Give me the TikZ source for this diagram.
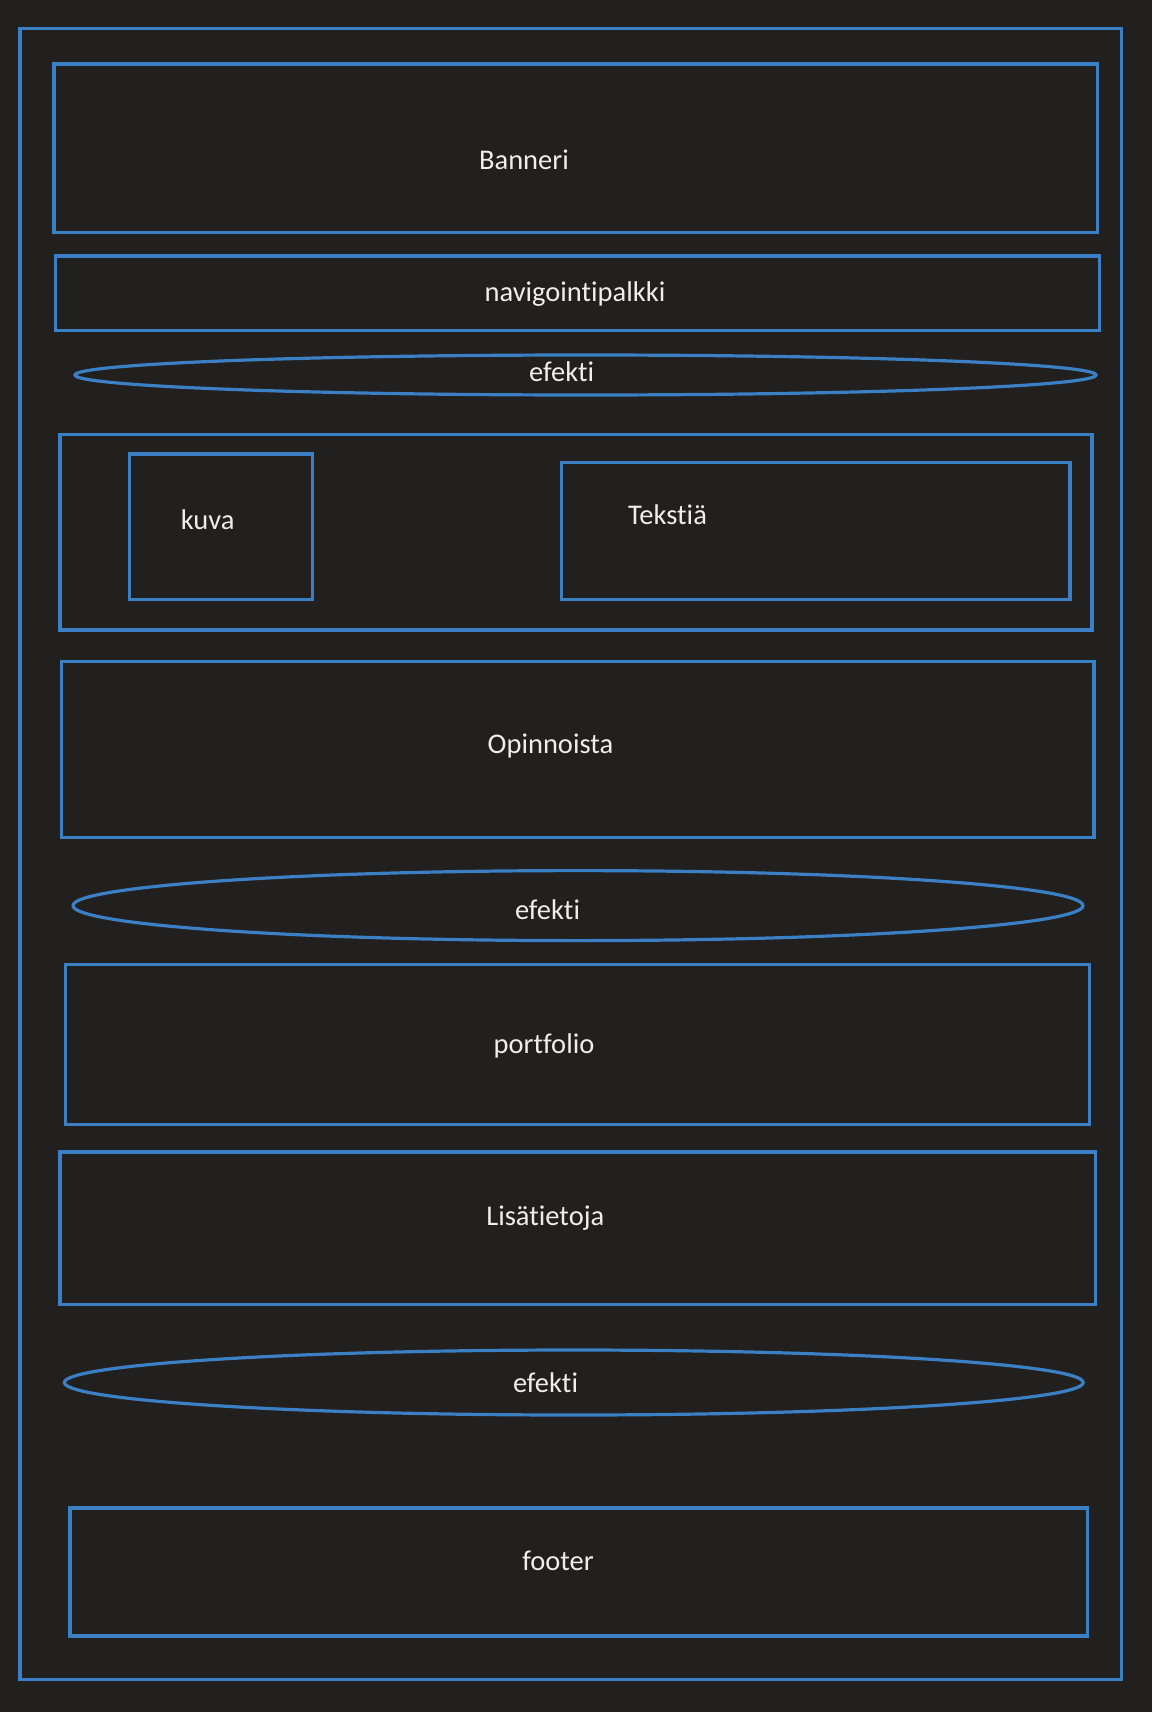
\documentclass[tikz,border=0pt]{standalone}
\usepackage{fontspec}
\setmainfont[Ligatures=NoCommon,RawFeature={-liga;-clig;-dlig}]{Carlito}
\usetikzlibrary{shapes.geometric}
\definecolor{bg}{RGB}{33,32,31}
\definecolor{edge}{RGB}{59,127,196}
\definecolor{txt}{RGB}{238,238,238}
\begin{document}
\begin{tikzpicture}[x=1pt,y=-1pt,
  box/.style={draw=edge,line width=3.2pt,rectangle,inner sep=0pt,minimum width=#1},
  oval/.style={draw=edge,line width=3.2pt,ellipse,inner sep=0pt},
  lbl/.style={text=txt,font=\fontsize{28.5}{34}\selectfont,anchor=base,inner sep=0pt}]
\fill[bg] (0,0) rectangle (1152,1712);
\useasboundingbox (0,0) rectangle (1152,1712);
% outer frame
\node[box=1101.5pt,minimum height=1651pt] (outer) at (570.75,854) {};
% banner
\node[box=1043.5pt,minimum height=168.5pt] (banner) at (575.75,148.25) {};
\node[lbl] (tbanner) at (524,169.3) {Banneri};
% nav
\node[box=1043.9pt,minimum height=74.8pt] (nav) at (577.65,293.4) {};
\node[lbl] (tnav) at (575,301) {navigointipalkki};
% effect 1
\node[oval,minimum width=1021pt,minimum height=40pt] (e1) at (585.5,375) {};
\node[lbl] (te1) at (561.7,381.7) {efekti};
% section with image and text
\node[box=1032pt,minimum height=195.4pt] (sect) at (576,532.3) {};
\node[box=183pt,minimum height=145.3pt] (kuva) at (220.8,526.7) {};
\node[lbl] (tkuva) at (207.7,529.3) {kuva};
\node[box=508.2pt,minimum height=136.6pt] (teksti) at (815.9,531) {};
\node[lbl] (tteksti) at (667.5,524) {Tekstiä};
% opinnoista
\node[box=1032.9pt,minimum height=175.8pt] (opin) at (577.55,749.6) {};
\node[lbl] (topin) at (550.5,753.3) {Opinnoista};
% effect 2
\node[oval,minimum width=1010pt,minimum height=70pt] (e2) at (578,905.6) {};
\node[lbl] (te2) at (547.5,919.3) {efekti};
% portfolio
\node[box=1024.2pt,minimum height=160.6pt] (port) at (577.6,1044.4) {};
\node[lbl] (tport) at (544,1053.3) {portfolio};
% lisatietoja
\node[box=1035.2pt,minimum height=152.8pt] (lisa) at (577.6,1228.4) {};
\node[lbl] (tlisa) at (545.3,1225) {Lisätietoja};
% effect 3
\node[oval,minimum width=1018.8pt,minimum height=65pt] (e3) at (573.8,1382.5) {};
\node[lbl] (te3) at (545.5,1392.7) {efekti};
% footer
\node[box=1017.5pt,minimum height=128pt] (foot) at (578.75,1572) {};
\node[lbl] (tfoot) at (558,1570) {footer};
\end{tikzpicture}
\end{document}
